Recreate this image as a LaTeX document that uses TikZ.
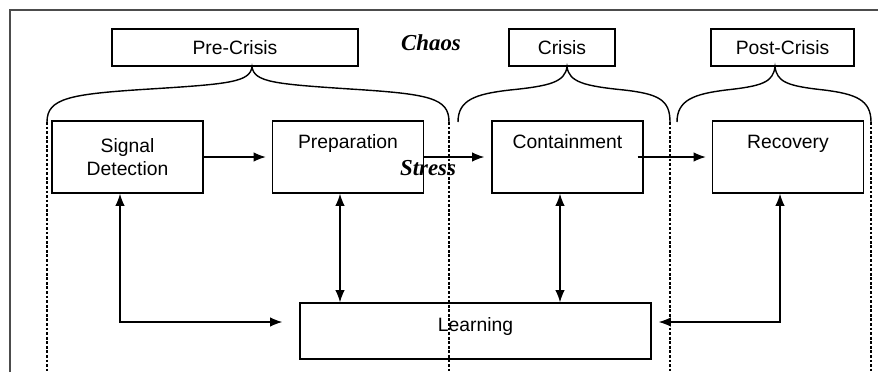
\documentclass[tikz,border=0pt]{standalone}
\usepackage{fontspec}
\setmainfont{Liberation Sans}
\newfontfamily\moodfont{Liberation Serif}
\usetikzlibrary{arrows.meta}

\begin{document}
\begin{tikzpicture}[x=0.02cm,y=-0.02cm,
    box/.style={draw,line width=0.8pt,inner sep=0pt,font=\fontsize{11}{13.5}\selectfont},
    phase/.style={box,minimum height=0.74cm},
    stage/.style={box,minimum width=3.02cm,minimum height=1.44cm},
    topstage/.style={stage,text height=0.54cm,text depth=0.9cm},
    sep/.style={line width=0.7pt,dash pattern=on 1.6pt off 1pt},
    brace/.style={line width=0.8pt},
    conn/.style={line width=0.8pt,>={Latex[length=7pt,width=5.5pt]}},
    mood/.style={font=\moodfont\bfseries\itshape\fontsize{13}{15}\selectfont}]
    \useasboundingbox (0,0) rectangle (878,372);
    % frame
    \draw[line width=1pt,black!70] (10,372) -- (10,10) -- (878,10);
    % phases
    \node[phase,minimum width=4.92cm] (pre) at (235,47.5) {Pre-Crisis};
    \node[phase,minimum width=2.12cm] (crisis) at (562,47.5) {Crisis};
    \node[phase,minimum width=2.86cm] (post) at (782.5,47.5) {Post-Crisis};
    \node[mood] (chaos) at (431,43) {Chaos};
    % brace ends
    \coordinate (b1l) at (47,122);
    \coordinate (b1r) at (449,122);
    \coordinate (b2l) at (458,122);
    \coordinate (b2r) at (670,122);
    \coordinate (b3l) at (677,122);
    \coordinate (b3r) at (871,122);
    \draw[brace] (b1l) .. controls (47,98) and (70,94) .. (150,89) .. controls (230,84) and (250,82) .. (pre.south -| 252,0)
        .. controls (254,82) and (274,84) .. (350,89) .. controls (430,94) and (449,98) .. (b1r);
    \draw[brace] (b2l) .. controls (458,100) and (475,94) .. (510,90) .. controls (550,86) and (565,82) .. (crisis.south -| 567,0)
        .. controls (569,82) and (584,86) .. (624,90) .. controls (659,94) and (670,100) .. (b2r);
    \draw[brace] (b3l) .. controls (677,100) and (694,94) .. (726,90) .. controls (763,86) and (773,82) .. (post.south -| 775,0)
        .. controls (777,82) and (787,86) .. (824,90) .. controls (856,94) and (871,100) .. (b3r);
    % dashed separators
    \draw[sep] (b1l) -- (47,372);
    \draw[sep] (b1r) -- (449,372);
    \draw[sep] (b2r) -- (670,372);
    \draw[sep] (b3r) -- (871,372);
    % stages
    \node[stage,align=center] (sd) at (127.5,157) {Signal\\Detection};
    \node[topstage] (prep) at (348,157) {Preparation};
    \node[topstage] (cont) at (567.5,157) {Containment};
    \node[topstage] (rec) at (788,157) {Recovery};
    \node[box,minimum width=7.02cm,text height=0.56cm,text depth=0.56cm] (learn) at (475.5,331) {Learning};
    \node[mood] (stress) at (428,168) {Stress};
    % connectors
    \draw[conn,->,shorten >=0.12cm] (sd) -- (prep);
    \draw[conn,->,shorten >=0.14cm] (prep) -- (cont);
    \draw[conn,->,shorten <=-0.12cm,shorten >=0.12cm] (cont) -- (rec);
    \draw[conn,<->,shorten >=0.34cm] (sd.south -| 120,0) |- (learn.west |- 0,322);
    \draw[conn,<->] (prep.south -| 340,0) -- (learn.north -| 340,0);
    \draw[conn,<->] (cont.south -| 560,0) -- (learn.north -| 560,0);
    \draw[conn,<->,shorten >=0.14cm] (rec.south -| 780,0) |- (learn.east |- 0,322);
\end{tikzpicture}
\end{document}
